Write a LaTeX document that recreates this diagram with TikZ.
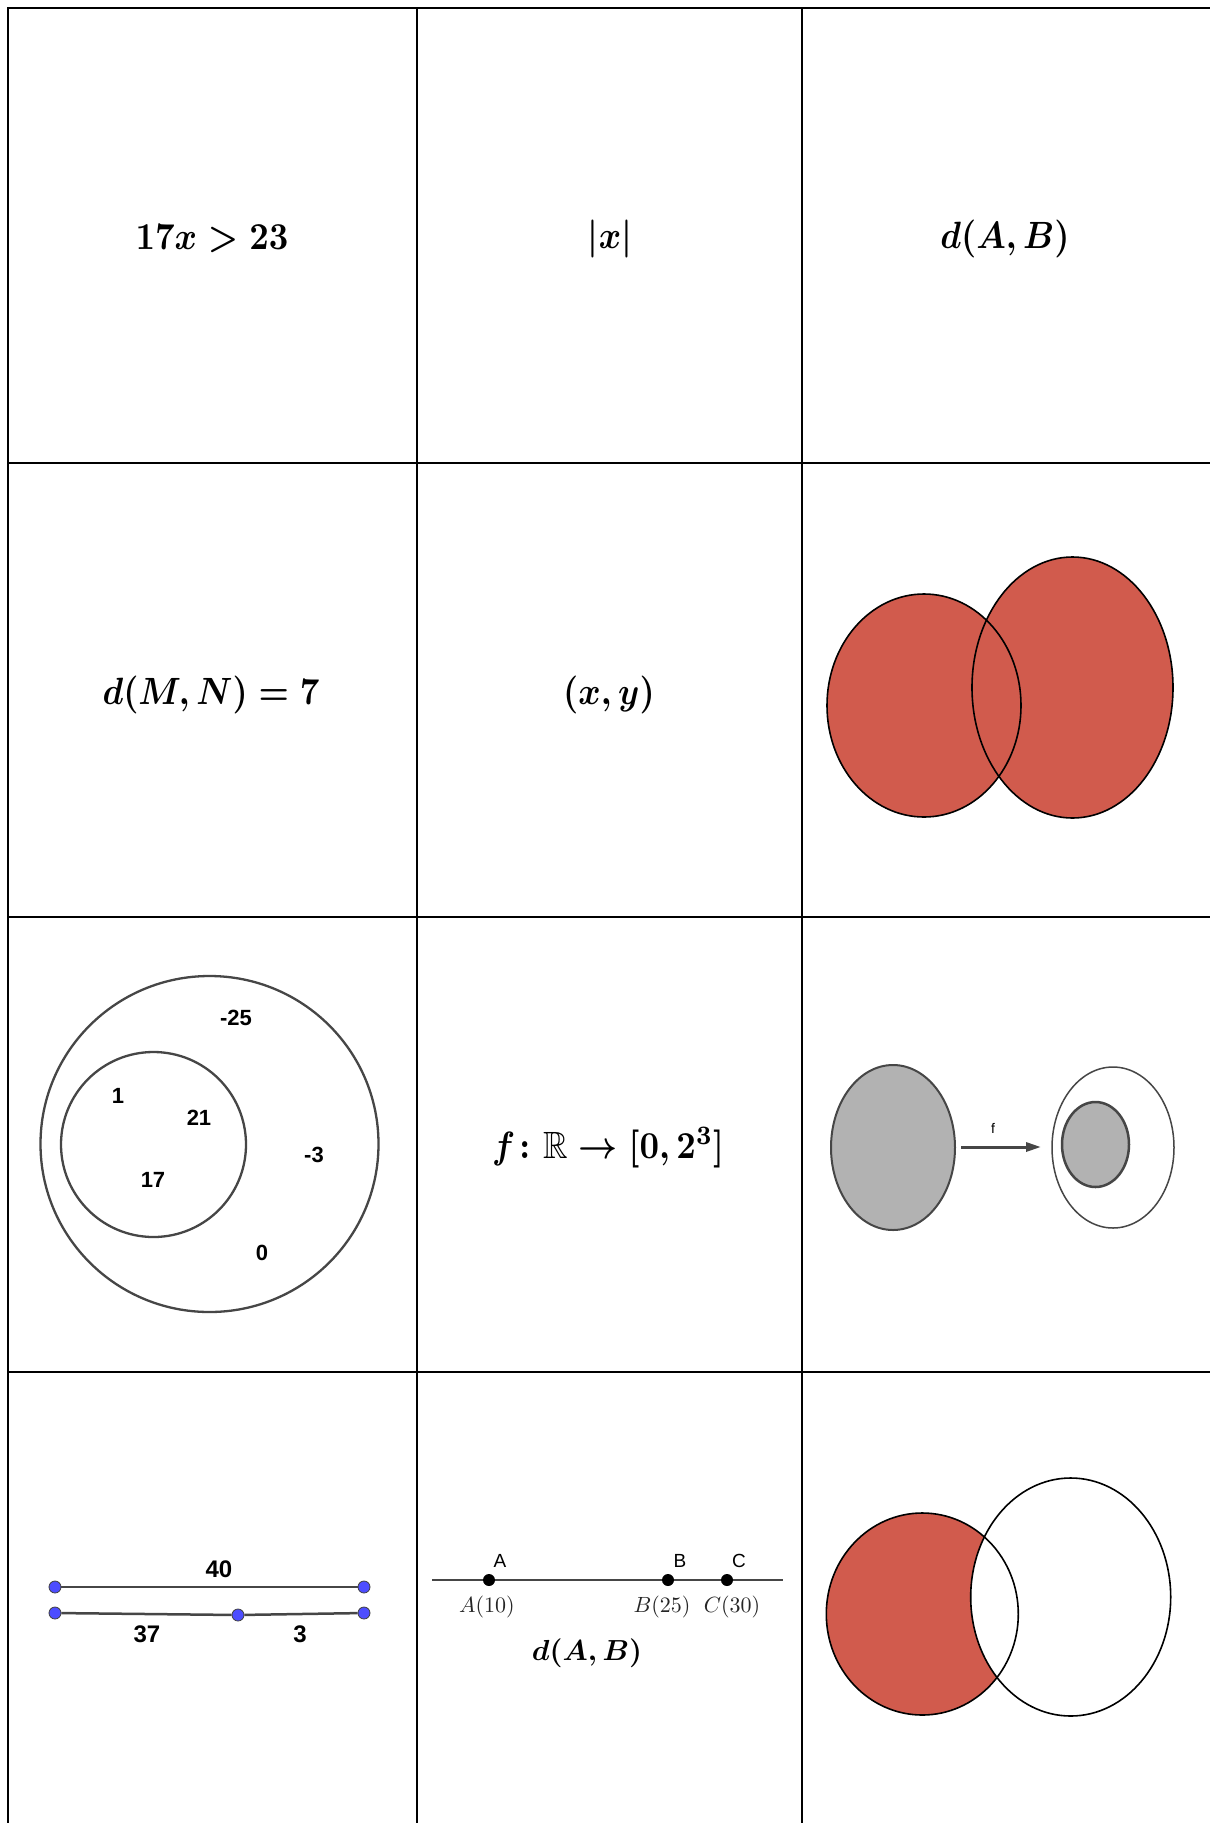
\documentclass[tikz,border=0pt]{standalone}
\usepackage{amsmath,amssymb}
\usepackage{graphicx}
\usepackage{fontspec}
\newfontfamily\arialfont{Liberation Sans}
\usetikzlibrary{arrows.meta}
\definecolor{vred}{RGB}{209,91,77}
\definecolor{ggblue}{RGB}{77,77,255}
\definecolor{dgrey}{RGB}{70,70,70}
\definecolor{lgrey}{RGB}{178,178,178}
\newcommand\bigmathtxt[1]{\scalebox{3.4}[3.8]{\boldmath$#1$}}
\begin{document}
\begin{tikzpicture}[x=1pt,y=-1pt,
  tbl/.style={line width=2pt,black},
  bigmath/.style={inner sep=0pt},
  vennnum/.style={inner sep=0pt,font=\arialfont\bfseries\fontsize{22}{26}\selectfont},
  segnum/.style={inner sep=0pt,font=\arialfont\bfseries\fontsize{24}{28}\selectfont},
  ptlabel/.style={inner sep=0pt,font=\arialfont\fontsize{19}{22}\selectfont},
  coordlabel/.style={inner sep=0pt,text=black!85},
  gpt/.style={circle,fill=ggblue,draw=black!75,line width=0.8pt,inner sep=0pt,minimum size=12pt},
  bpt/.style={circle,fill=black,inner sep=0pt,minimum size=12pt},
  seg/.style={line width=2.5pt,draw=dgrey},
  vline/.style={line width=1.6pt,black},
  setline/.style={line width=2.3pt,draw=dgrey},
  farrow/.style={line width=3pt,draw=dgrey,-{Triangle[length=15pt,width=9pt]}}
]
\useasboundingbox (0,0) rectangle (1210,1823);
\fill[white] (0,0) rectangle (1210,1823);

% ---- table grid ----
\foreach \yy in {8,463,917,1372} \draw[tbl] (7,\yy) -- (1210,\yy);
\foreach \xx in {8,417,802} \draw[tbl] (\xx,7) -- (\xx,1823);

% ---- row 1 ----
\node[bigmath] (r1a) at (212,239) {\bigmathtxt{17x>23}};
\node[bigmath] (r1b) at (610,239) {\bigmathtxt{|x|}};
\node[bigmath] (r1c) at (1005,239) {\bigmathtxt{d(A,B)}};

% ---- row 2 ----
\node[bigmath] (r2a) at (211,695) {\bigmathtxt{d(M,N)=7}};
\node[bigmath] (r2b) at (609,695) {\bigmathtxt{(x,y)}};
% union Venn
\fill[vred] (924,705.5) ellipse [x radius=97pt, y radius=111.5pt];
\fill[vred] (1072.5,687.5) ellipse [x radius=100.5pt, y radius=130.5pt];
\draw[vline] (924,705.5) ellipse [x radius=97pt, y radius=111.5pt];
\draw[vline] (1072.5,687.5) ellipse [x radius=100.5pt, y radius=130.5pt];

% ---- row 3 ----
\draw[setline] (209.5,1144) ellipse [x radius=169pt, y radius=168pt];
\draw[setline] (153.5,1144.5) ellipse [x radius=92.5pt, y radius=92.5pt];
\node[vennnum] (n25) at (236,1018) {-25};
\node[vennnum] (n1) at (118,1096) {1};
\node[vennnum] (n21) at (199,1118) {21};
\node[vennnum] (n3) at (314,1155) {-3};
\node[vennnum] (n17) at (153,1180) {17};
\node[vennnum] (n0) at (262,1253) {0};

\node[bigmath] (r3b) at (608,1148) {\bigmathtxt{f\colon\mathbb{R}\to[0,2^{3}]}};

% function diagram
\filldraw[fill=lgrey,draw=dgrey,line width=2pt] (893,1147.5) ellipse [x radius=62pt, y radius=82.5pt];
\draw[draw=dgrey,line width=1.5pt] (1113,1147.5) ellipse [x radius=61pt, y radius=80.5pt];
\filldraw[fill=lgrey,draw=dgrey,line width=2.5pt] (1095.5,1144.5) ellipse [x radius=33.5pt, y radius=42.5pt];
\coordinate (fs) at (961,1147);
\coordinate (fe) at (1041,1147);
\draw[farrow] (fs) -- (fe);
\node[inner sep=0pt,font=\arialfont\fontsize{14}{16}\selectfont] (flab) at (993,1128) {f};

% ---- row 4 ----
% segments
\node[gpt] (p1) at (55,1587) {};
\node[gpt] (p2) at (364,1587) {};
\node[gpt] (q1) at (55,1613) {};
\node[gpt] (q2) at (238,1615) {};
\node[gpt] (q3) at (364,1613) {};
\draw[seg] (p1) -- (p2);
\draw[seg] (q1) -- (q2);
\draw[seg] (q2) -- (q3);
\node[segnum] (l40) at (219,1569) {40};
\node[segnum] (l37) at (147,1634) {37};
\node[segnum] (l3) at (300,1634) {3};

% number line
\coordinate (nl1) at (432,1580);
\coordinate (nl2) at (783,1580);
\draw[seg] (nl1) -- (nl2);
\node[bpt] (pa) at (489,1580) {};
\node[bpt] (pb) at (668,1580) {};
\node[bpt] (pc) at (727,1580) {};
\node[ptlabel] (ta) at (500,1561) {A};
\node[ptlabel] (tb) at (680,1561) {B};
\node[ptlabel] (tc) at (739,1561) {C};
\node[coordlabel] (va) at (487,1607) {\scalebox{2.2}{$A(10)$}};
\node[coordlabel] (vb) at (662,1607) {\scalebox{2.2}{$B(25)$}};
\node[coordlabel] (vc) at (732,1607) {\scalebox{2.2}{$C(30)$}};
\node[inner sep=0pt] (dab) at (587,1653) {\scalebox{2.9}{\boldmath$d(A,B)$}};

% difference Venn
\fill[vred] (922.3,1614) ellipse [x radius=96pt, y radius=101pt];
\fill[white] (1070.7,1597) ellipse [x radius=100pt, y radius=119pt];
\draw[vline] (922.3,1614) ellipse [x radius=96pt, y radius=101pt];
\draw[vline] (1070.7,1597) ellipse [x radius=100pt, y radius=119pt];
\end{tikzpicture}
\end{document}
